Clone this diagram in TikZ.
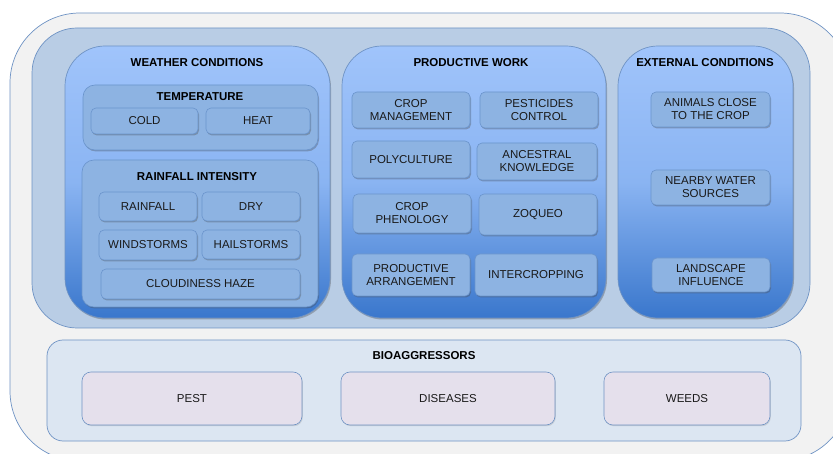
\documentclass[tikz,border=0pt]{standalone}
\usepackage{fontspec}
\setmainfont{Liberation Sans}
\usetikzlibrary{shadows}
\definecolor{outerfill}{HTML}{F2F2F2}
\definecolor{outerline}{HTML}{6F93C4}
\definecolor{midfill}{HTML}{B9CDE5}
\definecolor{paneltop}{HTML}{A0C4FB}
\definecolor{panelmid}{HTML}{8AB4F2}
\definecolor{panelbot}{HTML}{3A77CC}
\definecolor{itemfill}{HTML}{8DB3E2}
\definecolor{itemline}{HTML}{6A94CC}
\definecolor{biofill}{HTML}{DCE6F2}
\definecolor{pestfill}{HTML}{E5E0EC}
\tikzset{
  shad/.style={drop shadow={shadow xshift=1pt,shadow yshift=-1.5pt,opacity=0.35,fill=black!70}},
  lshad/.style={drop shadow={shadow xshift=0.8pt,shadow yshift=-1.2pt,opacity=0.2,fill=black!60}},
  panel/.style={draw=outerline,line width=0.7pt,rounded corners=40pt,
     top color=paneltop,bottom color=panelbot,middle color=panelmid,shad},
  group/.style={draw=itemline,line width=0.6pt,fill=itemfill,rounded corners=12pt,shad},
  item/.style={draw=itemline,line width=0.6pt,fill=itemfill,rounded corners=5pt,shad,
     align=center,font=\fontsize{11.5}{13}\selectfont,text=black!90},
  pest/.style={draw=outerline,line width=0.6pt,fill=pestfill,rounded corners=9pt,lshad,
     align=center,font=\fontsize{11.5}{13}\selectfont,text=black!90},
  title/.style={font=\bfseries\fontsize{11.5}{13}\selectfont,inner sep=0pt}
}
\newcommand{\bx}[7]{\node[#1,anchor=north west,inner sep=0pt,outer sep=0pt,
  minimum width=#5pt,minimum height=#6pt] (#2) at (#3,#4) {#7};}
\begin{document}
\begin{tikzpicture}[x=1pt,y=-1pt]
\useasboundingbox (0,0) rectangle (833,454);
\clip (0,0) rectangle (833,454);
\fill[white] (0,0) rectangle (833,454);
% outer
\bx{draw=outerline,line width=0.7pt,fill=outerfill,rounded corners=70pt}{outer}{10}{13}{840}{448}{}
% middle band
\bx{draw=outerline,line width=0.7pt,fill=midfill,rounded corners=45pt}{band}{32}{28}{778}{300}{}
% panels
\bx{panel}{weather}{65}{46}{265}{272}{}
\bx{panel}{prod}{342}{46}{264}{272}{}
\bx{panel}{ext}{618}{46}{175}{272}{}
\node[title] (tw) at (197,63) {WEATHER CONDITIONS};
\node[title] (tp) at (471,63) {PRODUCTIVE WORK};
\node[title] (te) at (705,63) {EXTERNAL CONDITIONS};
% temperature
\bx{group}{temp}{83}{85}{235}{65}{}
\node[title] (tt) at (200,97) {TEMPERATURE};
\bx{item}{cold}{91}{108}{107}{26}{COLD}
\bx{item}{heat}{206}{108}{104}{26}{HEAT}
% rainfall
\bx{group}{rain}{82}{160}{236}{147}{}
\node[title] (tr) at (197,177) {RAINFALL INTENSITY};
\bx{item}{rainfall}{99}{192}{98}{29}{RAINFALL}
\bx{item}{dry}{202}{192}{98}{29}{DRY}
\bx{item}{wind}{99}{230}{98}{30}{WINDSTORMS}
\bx{item}{hail}{202}{230}{98}{29}{HAILSTORMS}
\bx{item}{cloud}{101}{269}{199}{30}{CLOUDINESS HAZE}
% productive work
\bx{item}{cropm}{352}{92}{118}{36}{CROP\\MANAGEMENT}
\bx{item}{pestc}{480}{92}{118}{36}{PESTICIDES\\CONTROL}
\bx{item}{poly}{352}{141}{118}{37}{POLYCULTURE}
\bx{item}{ances}{477}{143}{120}{37}{ANCESTRAL\\KNOWLEDGE}
\bx{item}{phen}{353}{194}{118}{39}{CROP\\PHENOLOGY}
\bx{item}{zoq}{479}{194}{118}{41}{ZOQUEO}
\bx{item}{parr}{352}{254}{118}{42}{PRODUCTIVE\\ARRANGEMENT}
\bx{item}{inter}{475}{254}{122}{42}{INTERCROPPING}
% external
\bx{item}{anim}{651}{92}{119}{35}{ANIMALS CLOSE\\TO THE CROP}
\bx{item}{water}{651}{170}{119}{35}{NEARBY WATER\\SOURCES}
\bx{item}{land}{652}{258}{118}{34}{LANDSCAPE\\INFLUENCE}
% bioaggressors
\bx{draw=outerline,line width=0.7pt,fill=biofill,rounded corners=16pt}{bio}{47}{340}{754}{101}{}
\node[title] (tb) at (424,356) {BIOAGGRESSORS};
\bx{pest}{pestn}{82}{372}{220}{53}{PEST}
\bx{pest}{dis}{341}{372}{214}{53}{DISEASES}
\bx{pest}{weeds}{604}{372}{166}{53}{WEEDS}
\end{tikzpicture}
\end{document}
